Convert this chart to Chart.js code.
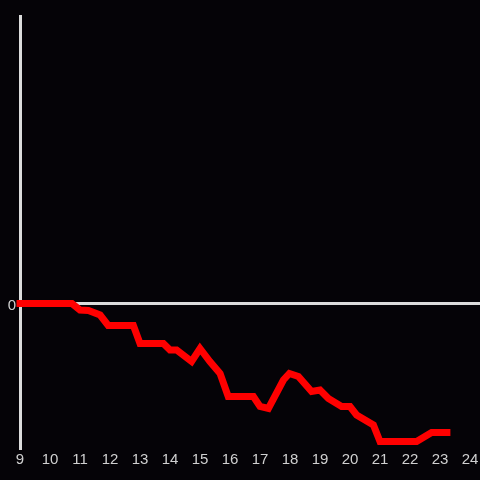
<!DOCTYPE html>
<html>
<head>
<meta charset="utf-8">
<script src="https://cdn.jsdelivr.net/npm/chart.js@4/dist/chart.umd.min.js"></script>
<style>
  html, body { margin: 0; padding: 0; background: #050307; }
  #wrap { width: 480px; height: 480px; }
</style>
</head>
<body>
<div id="wrap"><canvas id="c" width="480" height="480"></canvas></div>
<script>
// hour of day
const hours = [9, 10.73, 11, 11.28, 11.67, 11.94, 12.78, 13, 13.78, 14, 14.22, 14.72, 15,
  15.33, 15.67, 15.94, 16.78, 17, 17.28, 17.78, 17.98, 18.28, 18.72, 19, 19.28, 19.72,
  20, 20.22, 20.78, 21, 22.22, 22.72, 23.23]
const values = [0, 0, -6.5, -7, -11.5, -22, -22, -40, -40, -46.5, -46.5, -58, -45,
  -58, -70, -93, -93, -103, -105, -76.5, -70, -73, -88, -86.5, -95, -103,
  -103, -111.5, -121.5, -138, -138, -129, -129]
const xTicks = [9, 10, 11, 12, 13, 14, 15, 16, 17, 18, 19, 20, 21, 22, 23, 24]

const points = hours.map((h, i) => ({ x: h, y: values[i] }))

const axisColor = '#dcdcdc'
const textColor = '#d0d0d0'

const ctx = document.getElementById('c').getContext('2d')
new Chart(ctx, {
    type: 'line',
    data: {
        datasets: [{
            data: points,
            borderColor: '#ff0000',
            borderWidth: 7,
            pointRadius: 0,
            tension: 0,
            borderJoinStyle: 'miter',
            borderCapStyle: 'square',
            clip: false
        }]
    },
    options: {
        responsive: false,
        animation: false,
        layout: { padding: { top: 16, left: 0, right: 0, bottom: 0 } },
        plugins: { legend: { display: false }, tooltip: { enabled: false } },
        scales: {
            x: {
                type: 'linear',
                min: 9,
                max: 24.333,
                afterBuildTicks(axis) {
                    axis.ticks = xTicks.map(v => ({ value: v }))
                },
                afterFit(axis) {
                    axis.height = 32
                    axis.paddingLeft = 0
                    axis.paddingRight = 0
                },
                grid: { display: false, drawTicks: false },
                border: { display: false },
                ticks: {
                    color: textColor,
                    font: { family: 'Liberation Sans', size: 15 },
                    padding: 3,
                    maxRotation: 0,
                    autoSkip: false
                }
            },
            y: {
                min: -144.5,
                max: 287.5,
                afterBuildTicks(axis) {
                    axis.ticks = [{ value: 0 }]
                },
                afterFit(axis) {
                    axis.width = 20
                    axis.paddingTop = 0
                    axis.paddingBottom = 0
                },
                grid: {
                    color: axisColor,
                    lineWidth: 3,
                    drawTicks: false
                },
                border: { display: true, color: axisColor, width: 3 },
                ticks: {
                    color: textColor,
                    font: { family: 'Liberation Sans', size: 15 },
                    padding: 4,
                    labelOffset: 2,
                    callback: v => v === 0 ? '0' : ''
                }
            }
        }
    }
})
</script>
</body>
</html>
